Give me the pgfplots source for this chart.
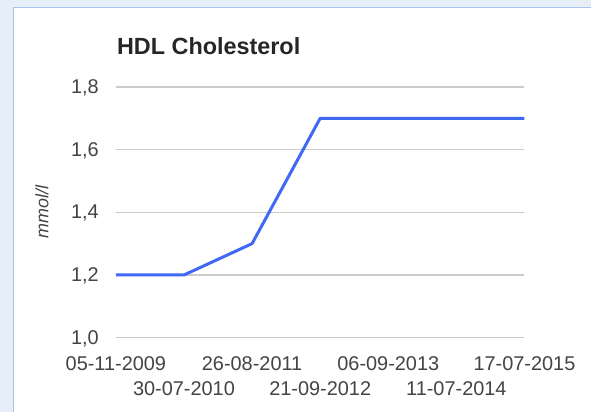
\documentclass[border=0pt]{standalone}
\usepackage{fontspec}
\setmainfont{Liberation Sans}
\usepackage{pgfplots}
\pgfplotsset{compat=1.18}
\definecolor{outerbg}{HTML}{E6EEF8}
\definecolor{panelborder}{HTML}{A9C5EC}
\definecolor{gridgray}{HTML}{CCCCCC}
\definecolor{linecol}{HTML}{3F68F5}
\definecolor{labgray}{HTML}{444444}
\begin{document}
\begin{tikzpicture}[x=1bp,y=1bp]
% frame around the chart panel
\fill[outerbg] (0,0) rectangle (592,412);
\fill[white] (14,0) rectangle (592,404);
\draw[panelborder, line width=1.2bp] (13.6,0) -- (13.6,404.4) -- (592,404.4);
\node[anchor=west, font=\fontsize{23.5}{26}\selectfont\bfseries, text=black!85, inner sep=0pt] at (117,366) {HDL Cholesterol};
\node[rotate=90, font=\fontsize{18}{20}\selectfont\itshape, text=labgray, inner sep=0pt] at (42,200) {mmol/l};
\begin{axis}[
    at={(116bp,74bp)}, anchor=south west,
    scale only axis, width=409bp, height=251bp,
    xmin=0, xmax=6, ymin=1.0, ymax=1.8,
    ytick={1.0,1.2,1.4,1.6,1.8},
    xtick={0,1,2,3,4,5,6},
    xticklabels={05-11-2009,30-07-2010,26-08-2011,21-09-2012,06-09-2013,11-07-2014,17-07-2015},
    xticklabel style={font=\fontsize{20}{24}\selectfont, text=labgray, inner sep=0pt,
        yshift={-19-25*mod(\ticknum,2)}},
    yticklabel style={font=\fontsize{20}{24}\selectfont, text=labgray, inner sep=0pt, xshift=-17bp, yshift=-1bp},
    /pgf/number format/assume math mode=true,
    yticklabel={\pgfmathprintnumber[fixed, fixed zerofill, precision=1, use comma]{\tick}},
    axis line style={draw=none},
    tick style={draw=none},
    ymajorgrids,
    major grid style={gridgray, line width=1.3bp},
    clip=false,
]
\addplot[linecol, line width=3bp, line join=round] coordinates {
    (0,1.2) (1,1.2) (2,1.3) (3,1.7) (4,1.7) (5,1.7) (6,1.7)
};
\end{axis}
\end{tikzpicture}
\end{document}
